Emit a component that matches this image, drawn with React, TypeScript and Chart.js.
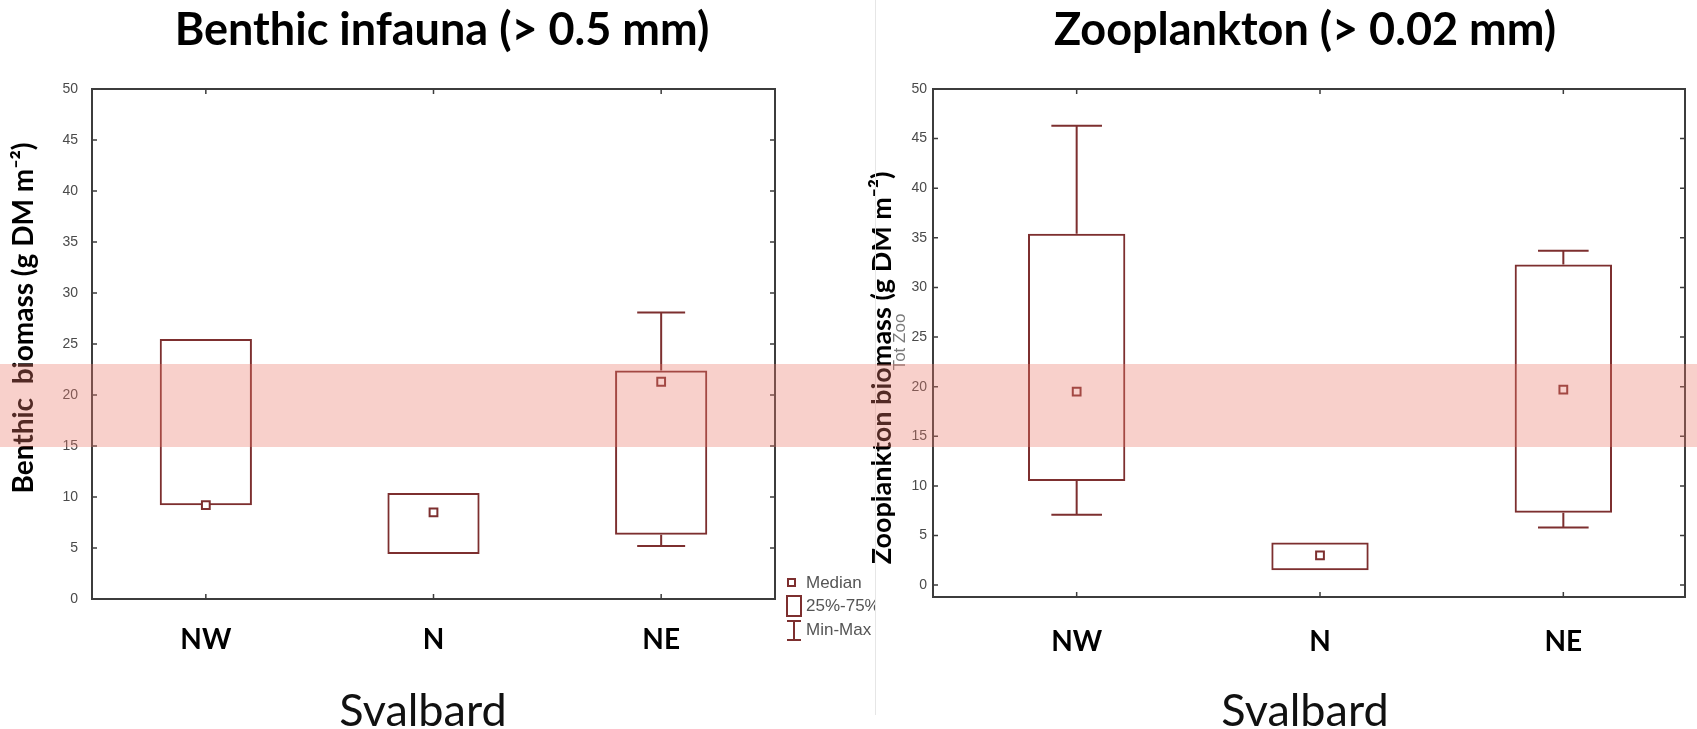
import React, { useEffect, useRef } from "react";
import { Chart, registerables } from "chart.js";

Chart.register(...registerables);

// Sampling regions around Svalbard
const regions = ["NW", "N", "NE"];
const yTickValues = [0, 5, 10, 15, 20, 25, 30, 35, 40, 45, 50];

// Benthic infauna biomass (> 0.5 mm), g DM m-2
const benthicMin = [9.2, 4.4, 5.2];
const benthicQ1 = [9.2, 4.4, 6.3];
const benthicMedian = [9.2, 8.5, 21.3];
const benthicQ3 = [25.5, 10.4, 22.4];
const benthicMax = [25.5, 10.4, 28.1];

// Zooplankton biomass (> 0.02 mm), g DM m-2
const zooMin = [7.1, 1.5, 5.8];
const zooQ1 = [10.5, 1.5, 7.3];
const zooMedian = [19.5, 3.0, 19.7];
const zooQ3 = [35.4, 4.3, 32.3];
const zooMax = [46.3, 4.3, 33.7];

const BOX = "#7d2f2f";
const FRAME = "#3c3c3c";
const TICK_TEXT = "#4a4a4a";

type Panel = {
  title: string;
  titleX: number;
  yTitle: string;
  yTitleX: number;
  yTitleY: number;
  yTitleSize: number;
  xTitle: string;
  xTitleX: number;
  frameLeftGap: number;
  note?: { text: string; x: number; y: number };
  legend: boolean;
  min: number[];
  q1: number[];
  q3: number[];
  max: number[];
};

const boxPlotPlugin = {
  id: "boxPlot",
  afterDatasetsDraw(chart: any, _args: any, opts: Panel) {
    const { ctx } = chart;
    const xs = chart.scales.x;
    const ys = chart.scales.y;
    const meta = chart.getDatasetMeta(0);
    ctx.save();
    ctx.strokeStyle = BOX;
    ctx.lineWidth = 2;
    opts.min.forEach((mn: number, i: number) => {
      const cx = xs.getPixelForValue(i);
      const half = meta.data[i].width * 0.26;
      const yQ1 = ys.getPixelForValue(opts.q1[i]);
      const yQ3 = ys.getPixelForValue(opts.q3[i]);
      const yMin = ys.getPixelForValue(mn);
      const yMax = ys.getPixelForValue(opts.max[i]);
      ctx.beginPath();
      if (opts.max[i] > opts.q3[i]) {
        ctx.moveTo(cx, yQ3);
        ctx.lineTo(cx, yMax);
        ctx.moveTo(cx - half, yMax);
        ctx.lineTo(cx + half, yMax);
      }
      if (mn < opts.q1[i]) {
        ctx.moveTo(cx, yQ1);
        ctx.lineTo(cx, yMin);
        ctx.moveTo(cx - half, yMin);
        ctx.lineTo(cx + half, yMin);
      }
      ctx.stroke();
    });
    ctx.restore();
  },
  afterDraw(chart: any, _args: any, opts: Panel) {
    const { ctx, chartArea } = chart;
    const { right, top, bottom } = chartArea;
    const left = chartArea.left - opts.frameLeftGap;
    const xs = chart.scales.x;
    const ys = chart.scales.y;
    ctx.save();

    // frame
    ctx.strokeStyle = FRAME;
    ctx.lineWidth = 2;
    ctx.strokeRect(left, top, right - left, bottom - top);

    // inward tick marks
    ctx.lineWidth = 1.5;
    ctx.beginPath();
    yTickValues.forEach((v) => {
      const py = ys.getPixelForValue(v);
      ctx.moveTo(left, py);
      ctx.lineTo(left + 5, py);
      ctx.moveTo(right, py);
      ctx.lineTo(right - 5, py);
    });
    regions.forEach((_r, i) => {
      const px = xs.getPixelForValue(i);
      ctx.moveTo(px, top);
      ctx.lineTo(px, top + 5);
      ctx.moveTo(px, bottom);
      ctx.lineTo(px, bottom - 5);
    });
    ctx.stroke();

    // panel title
    ctx.fillStyle = "#000";
    ctx.font = "bold 45px Lato";
    ctx.textAlign = "center";
    ctx.textBaseline = "middle";
    ctx.fillText(opts.title, opts.titleX, 30);

    // region group label under the axis
    ctx.fillStyle = "#111";
    ctx.font = "45px Lato";
    ctx.fillText(opts.xTitle, opts.xTitleX, 711);

    // vertical axis title
    ctx.fillStyle = "#000";
    ctx.save();
    ctx.translate(opts.yTitleX, opts.yTitleY);
    ctx.rotate(-Math.PI / 2);
    ctx.font = `bold ${opts.yTitleSize}px Lato`;
    ctx.fillText(opts.yTitle, 0, 0);
    ctx.restore();

    if (opts.note) {
      ctx.save();
      ctx.translate(opts.note.x, opts.note.y);
      ctx.rotate(-Math.PI / 2);
      ctx.font = "17px 'Liberation Sans'";
      ctx.fillStyle = "#7a7a7a";
      ctx.fillText(opts.note.text, 0, 0);
      ctx.restore();
    }

    if (opts.legend) {
      ctx.strokeStyle = BOX;
      ctx.lineWidth = 2;
      ctx.fillStyle = "#fff";
      ctx.fillRect(788, 579, 7, 7);
      ctx.strokeRect(788, 579, 7, 7);
      ctx.strokeRect(787, 596, 14, 20);
      ctx.beginPath();
      ctx.moveTo(794, 621);
      ctx.lineTo(794, 640);
      ctx.moveTo(787, 621);
      ctx.lineTo(801, 621);
      ctx.moveTo(787, 640);
      ctx.lineTo(801, 640);
      ctx.stroke();
      ctx.fillStyle = "#555";
      ctx.font = "17px 'Liberation Sans'";
      ctx.textAlign = "left";
      ctx.fillText("Median", 806, 583);
      ctx.fillText("25%-75%", 806, 606);
      ctx.fillText("Min-Max", 806, 630);
    }
    ctx.restore();
  },
};

function buildConfig(
  panel: Panel,
  medians: number[],
  yMin: number,
  axisWidth: number,
  xAxisHeight: number,
  padRight: number,
  boxShare: number,
  labelGap: number,
  tickGap: number
): any {
  return {
    type: "bar",
    data: {
      labels: regions,
      datasets: [
        {
          type: "bar",
          data: regions.map((_r, i) => [panel.q1[i], panel.q3[i]]),
          backgroundColor: "rgba(255,255,255,0)",
          borderColor: BOX,
          borderWidth: 2,
          borderSkipped: false,
          barPercentage: boxShare,
          categoryPercentage: 1,
          order: 2,
        },
        {
          type: "line",
          data: medians,
          showLine: false,
          pointStyle: "rect",
          pointRadius: 5.5,
          pointBorderWidth: 2,
          pointBorderColor: BOX,
          pointBackgroundColor: "#fff",
          order: 1,
        },
      ],
    },
    options: {
      responsive: false,
      animation: false,
      events: [],
      layout: { padding: { left: 0, top: 89, right: padRight, bottom: 0 } },
      plugins: {
        legend: { display: false },
        tooltip: { enabled: false },
        title: { display: false },
        boxPlot: panel,
      },
      scales: {
        x: {
          type: "category",
          offset: true,
          grid: { display: false, drawTicks: false },
          border: { display: false },
          ticks: {
            color: "#000",
            font: { family: "Lato", weight: "bold", size: 28 },
            padding: labelGap,
          },
          afterFit: (s: any) => {
            s.height = xAxisHeight;
          },
        },
        y: {
          type: "linear",
          min: yMin,
          max: 50,
          grid: { display: false, drawTicks: false },
          border: { display: false },
          afterBuildTicks: (s: any) => {
            s.ticks = yTickValues.map((v) => ({ value: v }));
          },
          ticks: {
            color: TICK_TEXT,
            font: { family: "'Liberation Sans'", size: 14 },
            padding: tickGap,
          },
          afterFit: (s: any) => {
            s.width = axisWidth;
          },
        },
      },
    },
    plugins: [boxPlotPlugin],
  };
}

export default function App() {
  const leftRef = useRef<HTMLCanvasElement>(null);
  const rightRef = useRef<HTMLCanvasElement>(null);

  useEffect(() => {
    const benthic: Panel = {
      title: "Benthic infauna (> 0.5 mm)",
      titleX: 442,
      yTitle: "Benthic  biomass (g DM m⁻²)",
      yTitleX: 24,
      yTitleY: 318,
      yTitleSize: 28,
      xTitle: "Svalbard",
      xTitleX: 423,
      frameLeftGap: 0,
      legend: true,
      min: benthicMin,
      q1: benthicQ1,
      q3: benthicQ3,
      max: benthicMax,
    };
    const zoo: Panel = {
      title: "Zooplankton (> 0.02 mm)",
      titleX: 445,
      yTitle: "Zooplankton biomass (g DM m⁻²)",
      yTitleX: 22,
      yTitleY: 368,
      yTitleSize: 27,
      xTitle: "Svalbard",
      xTitleX: 445,
      frameLeftGap: 22,
      note: { text: "Tot Zoo", x: 40, y: 342 },
      legend: false,
      min: zooMin,
      q1: zooQ1,
      q3: zooQ3,
      max: zooMax,
    };
    const left = new Chart(
      leftRef.current as HTMLCanvasElement,
      buildConfig(benthic, benthicMedian, 0, 92, 130, 101, 0.405, 24, 14)
    );
    const right = new Chart(
      rightRef.current as HTMLCanvasElement,
      buildConfig(zoo, zooMedian, -1.2, 95, 132, 12, 0.4, 28, 28)
    );
    return () => {
      left.destroy();
      right.destroy();
    };
  }, []);

  return (
    <div
      style={{
        position: "absolute",
        left: 0,
        top: 0,
        width: 1697,
        height: 729,
        background: "#fff",
        overflow: "hidden",
      }}
    >
      <canvas
        ref={leftRef}
        width={876}
        height={729}
        style={{ position: "absolute", left: 0, top: 0, width: 876, height: 729 }}
      />
      <canvas
        ref={rightRef}
        width={837}
        height={729}
        style={{ position: "absolute", left: 860, top: 0, width: 837, height: 729 }}
      />
      <div
        style={{
          position: "absolute",
          left: 875,
          top: 0,
          width: 1,
          height: 715,
          background: "#e6e6e6",
        }}
      />
      <div
        style={{
          position: "absolute",
          left: 0,
          top: 364,
          width: 1697,
          height: 83,
          background: "rgba(235,120,105,0.35)",
          pointerEvents: "none",
        }}
      />
    </div>
  );
}
